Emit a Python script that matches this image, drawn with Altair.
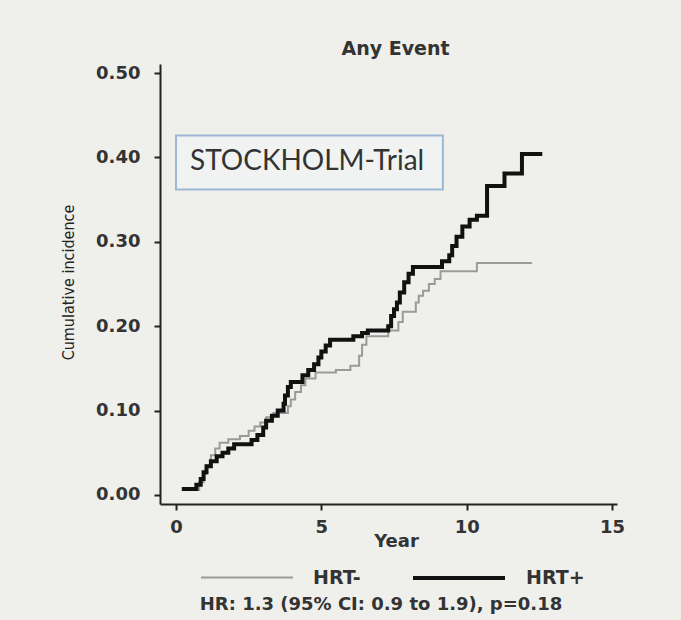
import altair as alt
import pandas as pd

# HRT+ (black) Kaplan-Meier style cumulative incidence steps
hrt_pos_year = [0.2, 0.7, 0.85, 0.95, 1.05, 1.2, 1.4, 1.6, 1.8, 2.0, 2.6, 2.8, 3.0, 3.1,
                3.3, 3.5, 3.7, 3.75, 3.85, 3.95, 4.35, 4.55, 4.75, 4.9, 5.0, 5.15, 5.3,
                6.1, 6.4, 6.6, 7.3, 7.4, 7.5, 7.6, 7.7, 7.85, 8.0, 8.15, 9.15, 9.4, 9.5,
                9.65, 9.85, 10.1, 10.35, 10.7, 11.3, 11.9, 12.6]
hrt_pos_val = [0.007, 0.012, 0.019, 0.027, 0.034, 0.040, 0.046, 0.050, 0.055, 0.060, 0.065,
               0.071, 0.080, 0.088, 0.094, 0.100, 0.108, 0.118, 0.128, 0.134, 0.142, 0.148,
               0.155, 0.163, 0.170, 0.177, 0.184, 0.188, 0.192, 0.195, 0.200, 0.212, 0.220,
               0.228, 0.240, 0.252, 0.262, 0.270, 0.277, 0.284, 0.295, 0.306, 0.318, 0.326,
               0.331, 0.366, 0.381, 0.404, 0.404]

# HRT- (gray)
hrt_neg_year = [0.5, 0.8, 0.95, 1.05, 1.2, 1.35, 1.5, 1.8, 2.2, 2.5, 2.7, 2.9, 3.1, 3.35,
                3.85, 3.95, 4.1, 4.3, 4.45, 4.8, 5.5, 6.0, 6.3, 6.4, 6.55, 7.3, 7.65, 7.8,
                8.25, 8.35, 8.5, 8.7, 8.9, 9.1, 10.35, 12.25]
hrt_neg_val = [0.006, 0.015, 0.025, 0.035, 0.047, 0.055, 0.062, 0.066, 0.070, 0.076, 0.081,
               0.086, 0.092, 0.097, 0.105, 0.113, 0.122, 0.130, 0.138, 0.145, 0.148, 0.153,
               0.165, 0.178, 0.188, 0.195, 0.205, 0.217, 0.228, 0.236, 0.242, 0.250, 0.256,
               0.265, 0.275, 0.275]

groups = ["HRT-", "HRT+"]
group_colors = ["#9a9a9a", "#111111"]
group_widths = [2, 4]

x_ticks = [0, 5, 10, 15]
y_ticks = [0.0, 0.1, 0.2, 0.3, 0.4, 0.5]

box_label = ["STOCKHOLM-Trial"]
box_x = [0.0]
box_x2 = [9.18]
box_y = [0.426]
box_y2 = [0.362]
box_text_x = [0.48]
box_text_y = [0.394]

hr_text = "HR: 1.3 (95% CI: 0.9 to 1.9), p=0.18"

df = pd.concat([
    pd.DataFrame({"Year": hrt_neg_year, "Incidence": hrt_neg_val, "Group": "HRT-"}),
    pd.DataFrame({"Year": hrt_pos_year, "Incidence": hrt_pos_val, "Group": "HRT+"}),
], ignore_index=True)

box_df = pd.DataFrame({"label": box_label, "x": box_x, "x2": box_x2, "y": box_y, "y2": box_y2,
                       "tx": box_text_x, "ty": box_text_y})

FONT = "DejaVu Sans"
TXT = "#333333"
NARROW = "'DejaVu Sans Condensed', 'Liberation Sans Narrow', 'Liberation Sans', sans-serif"

xscale = alt.Scale(domain=[-0.55, 15.17], nice=False, zero=False)
yscale = alt.Scale(domain=[-0.0107, 0.5107], nice=False, zero=False)

lines = alt.Chart(df).mark_line(interpolate="step-after").encode(
    x=alt.X("Year:Q", scale=xscale,
            axis=alt.Axis(values=x_ticks, title="Year", grid=False, format="d",
                          domainColor="#222222", domainWidth=2, tickColor="#222222",
                          tickWidth=2, tickSize=6, labelPadding=8,
                          labelFont=FONT, labelFontWeight="bold", labelFontSize=18,
                          labelColor=TXT, titleFont=FONT, titleFontWeight="bold",
                          titleFontSize=18, titleColor=TXT, titleX=236, titleY=37,
                          titleBaseline="middle", titleAlign="center")),
    y=alt.Y("Incidence:Q", scale=yscale,
            axis=alt.Axis(values=y_ticks, title="Cumulative incidence", grid=False,
                          format=".2f", domainColor="#222222", domainWidth=2,
                          tickColor="#222222", tickWidth=2, tickSize=6, labelPadding=14,
                          labelFont=FONT, labelFontWeight="bold", labelFontSize=18,
                          labelColor=TXT, titleFont=NARROW,
                          titleFontWeight="normal", titleFontSize=16, titleColor="#222222",
                          titleX=-92, titleY=218, titleAngle=-90,
                          titleBaseline="middle", titleAlign="center")),
    color=alt.Color("Group:N", scale=alt.Scale(domain=groups, range=group_colors),
                    legend=alt.Legend(title=None, orient="none", legendX=40, legendY=466,
                                      direction="horizontal", symbolType="stroke",
                                      symbolSize=8464, labelFont=FONT,
                                      labelFontWeight="bold", labelFontSize=19,
                                      labelColor=TXT, labelOffset=19, columnPadding=44)),
    strokeWidth=alt.StrokeWidth("Group:N", scale=alt.Scale(domain=groups, range=group_widths),
                                legend=None),
)

box = alt.Chart(box_df).mark_rect(fill="#f1f3f2", stroke="#9db8d2", strokeWidth=2).encode(
    x=alt.X("x:Q", scale=xscale), x2="x2:Q",
    y=alt.Y("y:Q", scale=yscale), y2="y2:Q",
)
box_txt = alt.Chart(box_df).mark_text(font="Lato", fontSize=28, color=TXT, align="left",
                                      baseline="middle").encode(
    x=alt.X("tx:Q", scale=xscale), y=alt.Y("ty:Q", scale=yscale), text="label:N")

hr = alt.Chart(pd.DataFrame({"t": [hr_text]})).mark_text(
    font=FONT, fontWeight="bold", fontSize=18, color=TXT, align="center", baseline="middle"
).encode(x=alt.value(221), y=alt.value(541), text="t:N")

chart = alt.layer(box, box_txt, lines, hr).properties(
    width=457, height=440,
    padding={"left": 160, "top": 64, "right": 64, "bottom": 116},
    autosize=alt.AutoSizeParams(type="none"),
    background="#efefeb",
    title=alt.TitleParams("Any Event", font=FONT, fontWeight="bold", fontSize=19, color=TXT,
                          anchor="middle", dx=7, offset=-10, baseline="alphabetic"),
).configure_view(stroke=None)

chart.save("out.html", embed_options={"renderer": "svg", "actions": False})
